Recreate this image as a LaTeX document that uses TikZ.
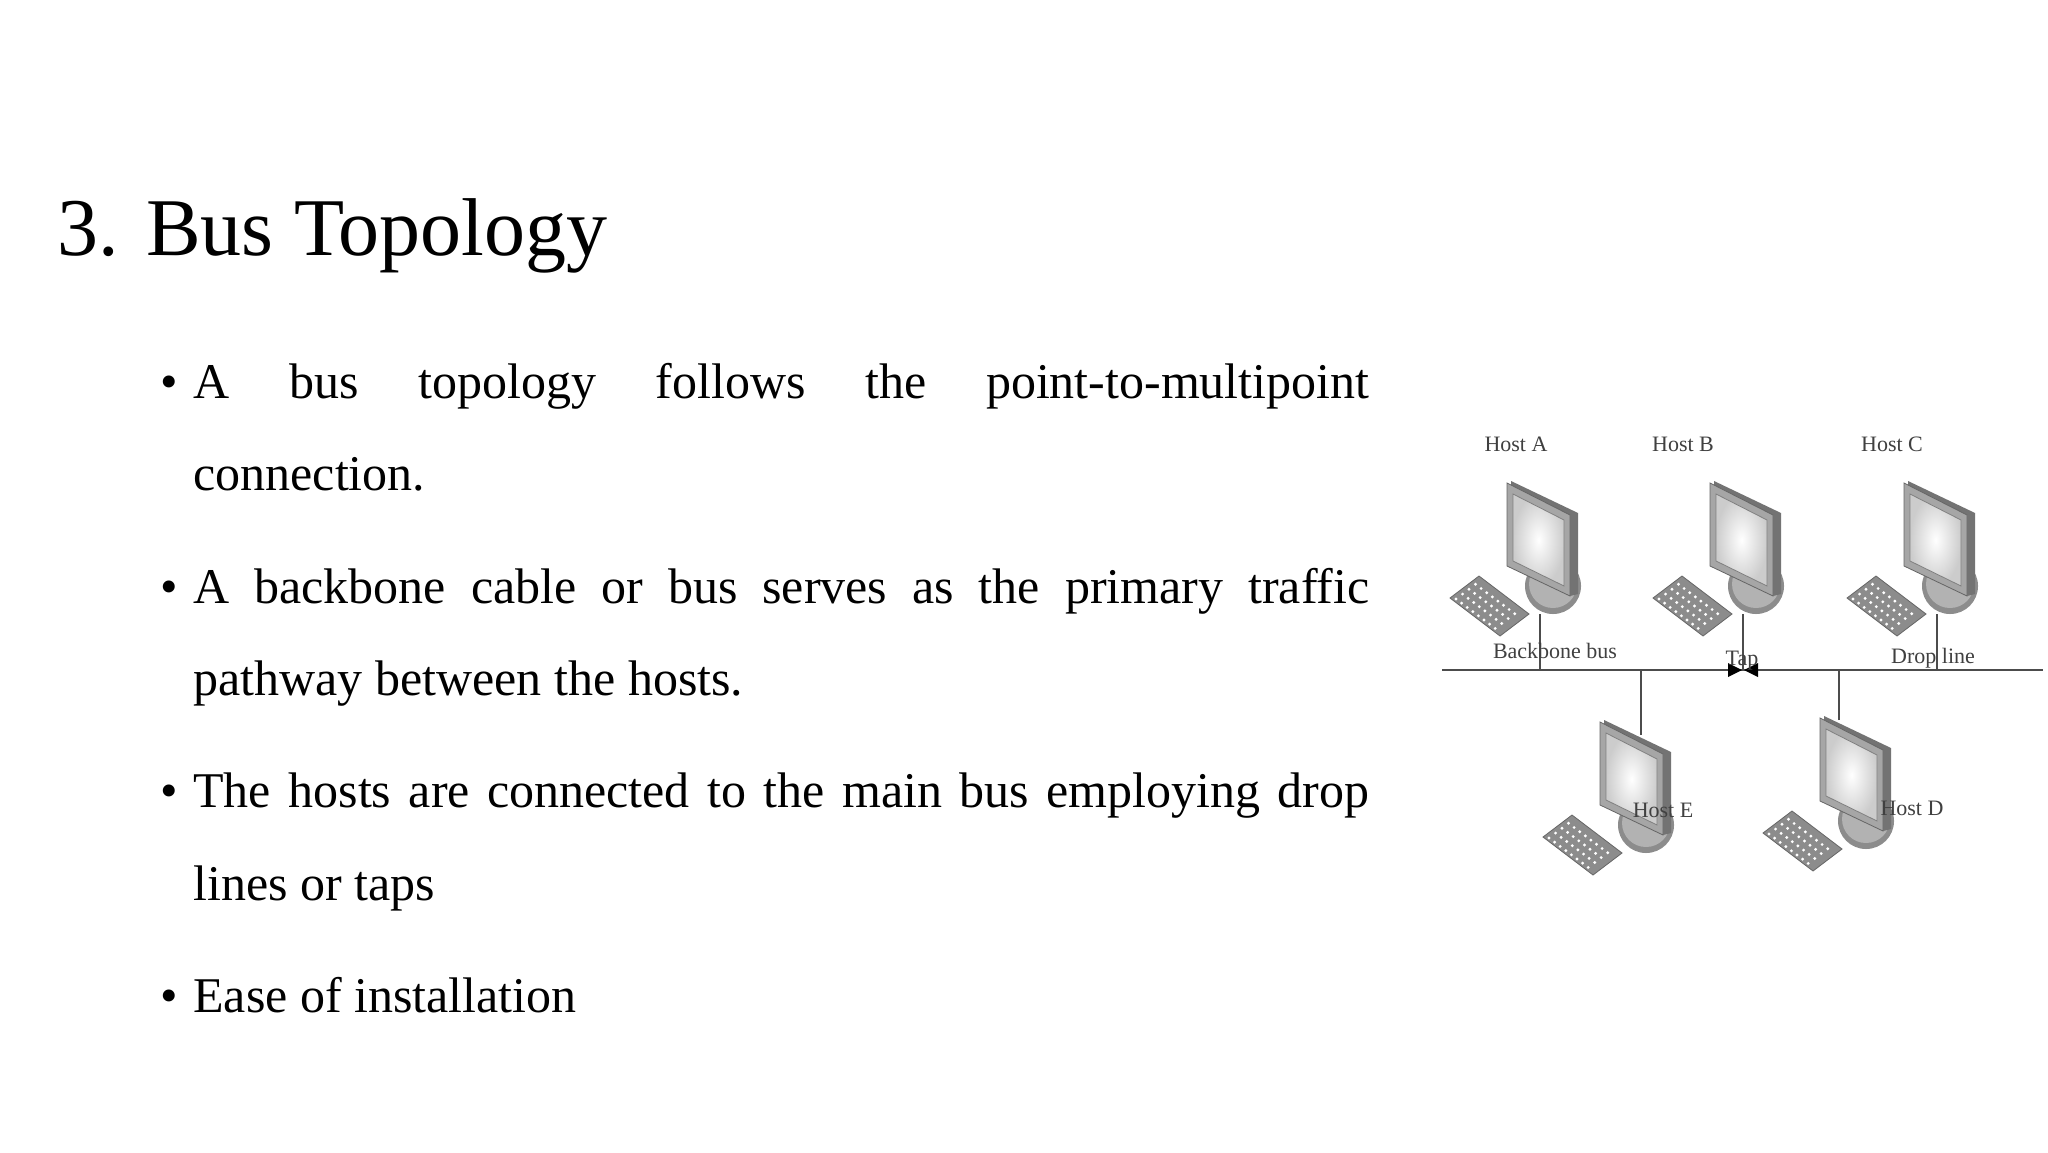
\documentclass[tikz,border=0pt]{standalone}
\usepackage{fontspec}
\setmainfont{Liberation Serif}
\usetikzlibrary{calc}
\begin{document}
\begin{tikzpicture}[x=0.5pt,y=-0.5pt,
  body/.style={anchor=base west,inner sep=0,font=\fontsize{25}{30}\selectfont},
  lbl/.style={inner sep=0,text=black!75,font=\fontsize{11}{13}\selectfont},
  wire/.style={line width=1.2pt,draw=black!70},
  computer/.pic={
    % base
    \fill[black!45] (13,-28) circle (28);
    \fill[black!30] (13,-30) circle (24);
    % monitor back/side
    \fill[black!55] (-29,-133) -- (38,-101) -- (38,-20) -- (30,-18) -- (-29,-48) -- cycle;
    % bezel
    \fill[black!35,draw=black!60,line width=0.4pt] (-33,-131) -- (30,-99) -- (30,-18) -- (-33,-48) -- cycle;
    % screen
    \shade[inner color=white,outer color=black!20,draw=black!50,line width=0.4pt] (-27,-120) -- (24,-94) -- (24,-28) -- (-27,-53) -- cycle;
    % keyboard
    \fill[black!45,draw=black!60,line width=0.4pt] (-90,-16) -- (-61,-38) -- (-11,0) -- (-40,22) -- cycle;
    \foreach \i in {0,...,3}{\foreach \j in {0,...,7}{
      \fill[white] ($(-84,-15)+\j*(5.6,4.2)+\i*(6.5,-4.9)$) circle (1.6);}}
  }]
\useasboundingbox (0,0) rectangle (2048,1152);
\fill[white] (0,0) rectangle (2048,1152);
\node[anchor=base west,inner sep=0,font=\fontsize{41}{48}\selectfont] (title) at (57,255) {3. Bus Topology};
% bullets
\foreach \y/\n in {398/b1,603/b2,807/b3,1012/b4}{\node[body] (\n) at (160,\y) {•};}
\node[body] (l1) at (193,398) {\hbox to 588pt{A\hfill bus\hfill topology\hfill follows\hfill the\hfill point-to-multipoint}};
\node[body] (l2) at (193,490) {connection.};
\node[body] (l3) at (193,603) {\hbox to 588pt{A\hfill backbone\hfill cable\hfill or\hfill bus\hfill serves\hfill as\hfill the\hfill primary\hfill traffic}};
\node[body] (l4) at (193,695) {pathway between the hosts.};
\node[body] (l5) at (193,807) {\hbox to 588pt{The\hfill hosts\hfill are\hfill connected\hfill to\hfill the\hfill main\hfill bus\hfill employing\hfill drop}};
\node[body] (l6) at (193,900) {lines or taps};
\node[body] (l7) at (193,1012) {Ease of installation};
% diagram
\coordinate (busL) at (1442,670);
\coordinate (busR) at (2043,670);
\draw[wire] (busL) -- (busR);
\pic at (1540,614) {computer};
\pic at (1743,614) {computer};
\pic at (1937,614) {computer};
\pic at (1633,853) {computer};
\pic at (1853,849) {computer};
\coordinate (dA) at (1540,614); \coordinate (bA) at (1540,670);
\coordinate (dB) at (1743,614); \coordinate (bB) at (1743,670);
\coordinate (dC) at (1937,614); \coordinate (bC) at (1937,670);
\coordinate (dE) at (1641,735); \coordinate (bE) at (1641,670);
\coordinate (dD) at (1839,720); \coordinate (bD) at (1839,670);
\foreach \h in {A,B,C,E,D}{\draw[wire] (d\h) -- (b\h);}
% tap
\fill[black] (1728,663) -- (1728,677) -- (1742,670) -- cycle;
\fill[black] (1758,663) -- (1758,677) -- (1744,670) -- cycle;
% labels
\node[lbl] (hA) at (1516,444) {Host A};
\node[lbl] (hB) at (1683,444) {Host B};
\node[lbl] (hC) at (1892,444) {Host C};
\node[lbl] (bb) at (1555,651) {Backbone bus};
\node[lbl] (tap) at (1742,661) {Tap};
\node[lbl] (dl) at (1933,658) {Drop line};
\node[lbl] (hE) at (1663,810) {Host E};
\node[lbl] (hD) at (1912,808) {Host D};
\end{tikzpicture}
\end{document}
